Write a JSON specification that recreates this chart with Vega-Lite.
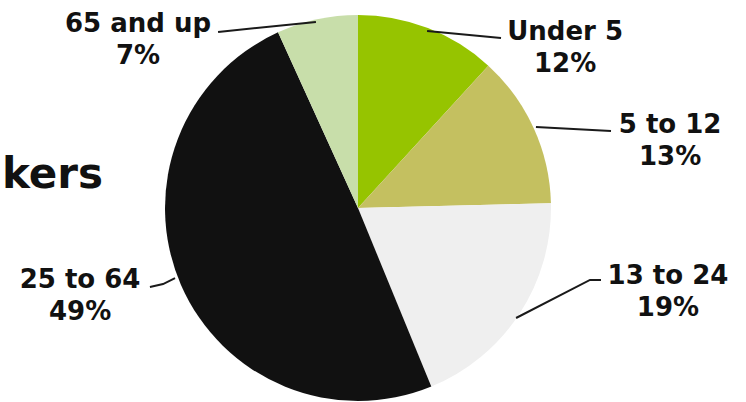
{
  "$schema": "https://vega.github.io/schema/vega-lite/v6.json",
  "width": 746,
  "height": 402,
  "autosize": {"type": "fit", "contains": "padding"},
  "padding": 0,
  "background": "white",
  "config": {"view": {"stroke": null}},
  "datasets": {
    "slices": [
      {"i": 1, "group": "Under 5", "share": 11.8},
      {"i": 2, "group": "5 to 12", "share": 12.8},
      {"i": 3, "group": "13 to 24", "share": 19.2},
      {"i": 4, "group": "25 to 64", "share": 49.4},
      {"i": 5, "group": "65 and up", "share": 6.8}
    ],
    "leaders": [
      {"group": "Under 5", "k": 1, "x": 0.358, "y": 0.917},
      {"group": "Under 5", "k": 2, "x": 0.741, "y": 0.881},
      {"group": "5 to 12", "k": 1, "x": 0.922, "y": 0.42},
      {"group": "5 to 12", "k": 2, "x": 1.311, "y": 0.399},
      {"group": "13 to 24", "k": 1, "x": 0.819, "y": -0.57},
      {"group": "13 to 24", "k": 2, "x": 1.202, "y": -0.373},
      {"group": "13 to 24", "k": 3, "x": 1.259, "y": -0.373},
      {"group": "25 to 64", "k": 1, "x": -0.948, "y": -0.363},
      {"group": "25 to 64", "k": 2, "x": -1.01, "y": -0.394},
      {"group": "25 to 64", "k": 3, "x": -1.078, "y": -0.409},
      {"group": "65 and up", "k": 1, "x": -0.218, "y": 0.964},
      {"group": "65 and up", "k": 2, "x": -0.725, "y": 0.912}
    ],
    "labels": [
      {"txt": "Under 5\n12%", "x": 1.073, "y": 0.912},
      {"txt": "5 to 12\n13%", "x": 1.617, "y": 0.43},
      {"txt": "13 to 24\n19%", "x": 1.606, "y": -0.352},
      {"txt": "25 to 64\n49%", "x": -1.44, "y": -0.373},
      {"txt": "65 and up\n7%", "x": -1.14, "y": 0.953}
    ],
    "heading": [
      {"txt": "kers", "x": -1.321, "y": 0.104}
    ]
  },
  "layer": [
    {
      "data": {"name": "slices"},
      "mark": {"type": "arc", "outerRadius": 193},
      "encoding": {
        "theta": {"field": "share", "type": "quantitative", "stack": true},
        "order": {"field": "i", "type": "quantitative"},
        "color": {
          "field": "group",
          "type": "nominal",
          "scale": {
            "domain": ["Under 5", "5 to 12", "13 to 24", "25 to 64", "65 and up"],
            "range": ["#96c400", "#c4c060", "#efefef", "#111111", "#c8deaa"]
          },
          "legend": null
        },
        "x": {"datum": 0, "type": "quantitative", "scale": {"domain": [-1.8549, 2.0104], "nice": false, "zero": false}, "axis": null},
        "y": {"datum": 0, "type": "quantitative", "scale": {"domain": [-1.0052, 1.0777], "nice": false, "zero": false}, "axis": null}
      }
    },
    {
      "data": {"name": "leaders"},
      "mark": {"type": "line", "color": "#1a1a1a", "strokeWidth": 2},
      "encoding": {
        "x": {"field": "x", "type": "quantitative"},
        "y": {"field": "y", "type": "quantitative"},
        "detail": {"field": "group"},
        "order": {"field": "k", "type": "quantitative"}
      }
    },
    {
      "data": {"name": "labels"},
      "mark": {"type": "text", "font": "DejaVu Sans", "fontWeight": "bold", "fontSize": 26, "lineHeight": 32, "lineBreak": "\n", "align": "center", "baseline": "middle", "color": "#111111"},
      "encoding": {
        "x": {"field": "x", "type": "quantitative"},
        "y": {"field": "y", "type": "quantitative"},
        "text": {"field": "txt"}
      }
    },
    {
      "data": {"name": "heading"},
      "mark": {"type": "text", "font": "DejaVu Sans", "fontWeight": "bold", "fontSize": 42, "align": "right", "baseline": "alphabetic", "color": "#111111"},
      "encoding": {
        "x": {"field": "x", "type": "quantitative"},
        "y": {"field": "y", "type": "quantitative"},
        "text": {"field": "txt"}
      }
    }
  ]
}
